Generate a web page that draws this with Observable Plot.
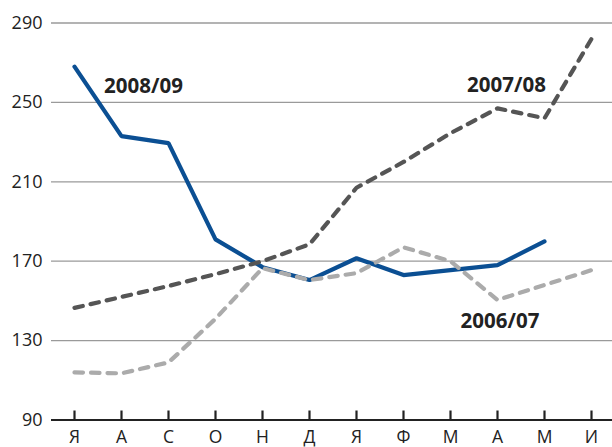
<!DOCTYPE html>
<html>
<head>
<meta charset="utf-8">
<script src="https://cdn.jsdelivr.net/npm/d3@7"></script>
<script src="https://cdn.jsdelivr.net/npm/@observablehq/plot@0.6"></script>
<style>
  html, body { margin: 0; padding: 0; background: #fff; }
  #chart svg { display: block; }
</style>
</head>
<body>
<div id="chart"></div>
<script>
const months = ["Я", "А", "С", "О", "Н", "Д", "Я", "Ф", "М", "А", "М", "И"];
const yTicks = [90, 130, 170, 210, 250, 290];
const s2008_09 = [268, 233, 229.5, 181, 167, 160.5, 171.5, 163, 165.5, 168, 180];
const s2007_08 = [146.5, 152, 157.5, 163.5, 170, 178.5, 207, 220, 234.5, 247, 242, 282];
const s2006_07 = [114, 113.5, 119, 141, 166.5, 160.5, 164, 177, 170, 150.5, 158, 165.5];
const seriesNames = ["2008/09", "2007/08", "2006/07"];

const idx = d3.range(months.length);
const toRows = arr => arr.map((v, i) => ({i, v}));

const chart = Plot.plot({
  width: 612,
  height: 447,
  marginLeft: 51,
  marginRight: 0,
  marginTop: 22.5,
  marginBottom: 27.5,
  style: {fontFamily: "'Open Sans', sans-serif", fontSize: "18px", color: "#222", background: "#fff"},
  x: {type: "point", domain: idx, padding: 0.468, align: 0.523},
  y: {domain: [90, 290]},
  marks: [
    Plot.ruleY(yTicks.filter(t => t > 90), {stroke: "#9a9a9a", strokeWidth: 1.3}),
    Plot.axisY(yTicks, {tickSize: 0, tickPadding: 9, label: null, fontSize: 18, fill: "#222"}),
    Plot.axisX(idx, {tickSize: 0, tickPadding: 11, label: null, tickFormat: i => months[i], fontSize: 17.5, fill: "#222"}),
    Plot.ruleY([90], {stroke: "#222", strokeWidth: 2.2}),
    Plot.ruleX(idx, {x: d => d, insetTop: 388, stroke: "#222", strokeWidth: 2.2}),
    Plot.line(toRows(s2008_09), {x: "i", y: "v", stroke: "#0b4f93", strokeWidth: 4.2, strokeLinejoin: "miter"}),
    Plot.line(toRows(s2007_08), {x: "i", y: "v", stroke: "#555555", strokeWidth: 4.2, strokeDasharray: "8.5,8", strokeLinecap: "round", strokeLinejoin: "round"}),
    Plot.line(toRows(s2006_07), {x: "i", y: "v", stroke: "#ababab", strokeWidth: 4.2, strokeDasharray: "8.5,8", strokeLinecap: "round", strokeLinejoin: "round"}),
    Plot.text([seriesNames[0]], {x: [1], y: [258], dx: 22, text: d => d, fontWeight: "bold", fontSize: 20.5, fill: "#222"}),
    Plot.text([seriesNames[1]], {x: [9], y: [258.5], dx: 9, text: d => d, fontWeight: "bold", fontSize: 20.5, fill: "#222"}),
    Plot.text([seriesNames[2]], {x: [9], y: [139.6], dx: 2.5, text: d => d, fontWeight: "bold", fontSize: 20.5, fill: "#222"})
  ]
});
document.getElementById("chart").appendChild(chart);
</script>
</body>
</html>
